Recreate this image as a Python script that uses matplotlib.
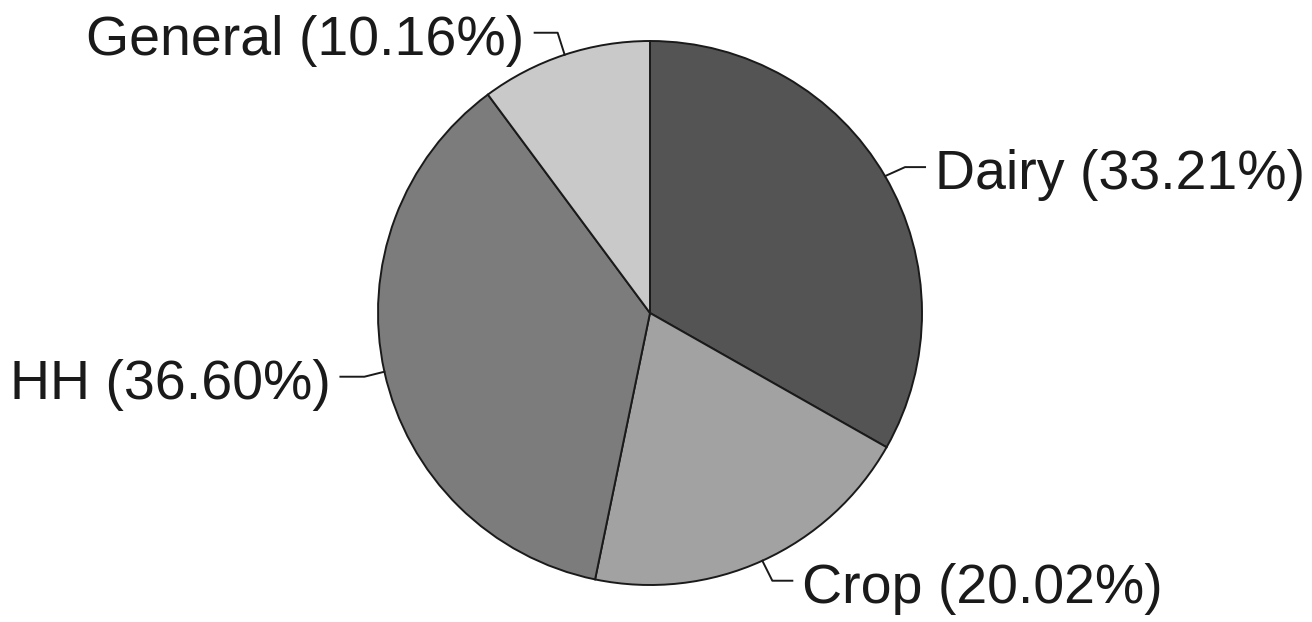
import numpy as np
import matplotlib
matplotlib.use("Agg")
import matplotlib.pyplot as plt

# slices, clockwise from 12 o'clock
labels = ["Dairy", "Crop", "HH", "General"]
shares = [33.21, 20.02, 36.60, 10.16]
colors = ["#545454", "#a2a2a2", "#7c7c7c", "#c9c9c9"]

# leader line shape per label: elbow offset (dx, dy) and horizontal run
elbows = [(20, 9), (10, -20), (-20, -5), (-7, 22)]
runs = [20, 20, -24, -23]

W, H = 1312, 622
fig = plt.figure(figsize=(W / 100, H / 100), dpi=100)
ax = fig.add_axes([0, 0, 1, 1])

cx, cy, r = 650, 309, 272
wedges, _ = ax.pie(shares, colors=colors, startangle=90, counterclock=False,
                   center=(cx, cy), radius=r, frame=True,
                   wedgeprops=dict(edgecolor="#1a1a1a", linewidth=1.4))
ax.set_xlim(0, W)
ax.set_ylim(0, H)
ax.set_aspect("equal")
ax.axis("off")

for w, name, val, (dx, dy), run in zip(wedges, labels, shares, elbows, runs):
    ang = np.deg2rad((w.theta1 + w.theta2) / 2)
    x0 = cx + r * np.cos(ang)
    y0 = cy + r * np.sin(ang)
    x1, y1 = x0 + dx, y0 + dy
    x2 = x1 + run
    ax.plot([x0, x1, x2], [y0, y1, y1], color="#1a1a1a", lw=1.4)
    ha = "left" if run > 0 else "right"
    gap = 10 if run > 0 else -10
    ax.text(x2 + gap, y1 - 22, f"{name} ({val:.2f}%)", ha=ha, va="baseline",
            fontsize=40, family=["Liberation Sans", "DejaVu Sans"], color="#1a1a1a")

fig.savefig("out.png", dpi=100)
